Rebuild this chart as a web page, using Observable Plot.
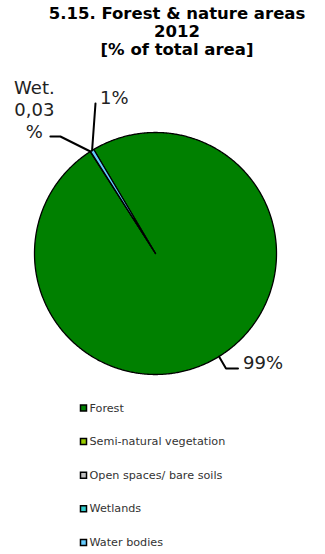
<!DOCTYPE html>
<html>
<head>
<meta charset="utf-8">
<script src="https://cdn.jsdelivr.net/npm/d3@7"></script>
<script src="https://cdn.jsdelivr.net/npm/@observablehq/plot@0.6"></script>
<style>
  html, body { margin: 0; padding: 0; background: #fff; }
  #wrap { width: 325px; height: 554px; position: relative; overflow: hidden; }
  #title { box-sizing: border-box; width: 325px; height: 60px; padding: 5px 0 0 29px;
           font: bold 16.5px "DejaVu Sans", sans-serif; line-height: 18px; text-align: center; color: #000; }
  #chart svg { display: block; }
</style>
</head>
<body>
<div id="wrap">
  <div id="title">5.15. Forest &amp; nature areas<br>2012<br>[% of total area]</div>
  <div id="chart"></div>
</div>
<script>
// ---- data ----
const categories = ["Forest", "Semi-natural vegetation", "Open spaces/ bare soils", "Wetlands", "Water bodies"];
const shares = [99.47, 0, 0, 0.03, 0.5];
const colors = ["#008000", "#99cc00", "#c0c0c0", "#33cccc", "#66ccff"];
const pieLabels = ["99%", "", "", "Wet.\n0,03\n%", "1%"];

// ---- layout ----
const W = 325, H = 494, top0 = 60;
const cx = 155, cy = 253, R = 121;
const startDeg = 329.3;
// leader layout per slice: [elbow dx, elbow dy, end dx] relative to arc point; label anchor
const leaderLayout = {
  0: {elbow: [7, 12], endDx: 12, text: [24, 13], anchor: "start"},
  3: {elbow: [-30, -15], endDx: -10, text: [-56, -14], anchor: "middle"},
  4: {elbow: [3.4, -47], endDx: 0, text: [8, -46], anchor: "start"}
};

const arcs = d3.pie().sort(null).value(d => d)
  .startAngle(startDeg * Math.PI / 180)
  .endAngle(startDeg * Math.PI / 180 + 2 * Math.PI)(shares);

const pt = (a, r) => ({x: cx + r * Math.sin(a), y: cy - r * Math.cos(a)});

const marks = [];
arcs.forEach((a, i) => {
  if (a.value <= 0) return;
  const n = Math.max(2, Math.ceil((a.endAngle - a.startAngle) / (Math.PI / 360)));
  const poly = [{x: cx, y: cy}];
  for (let k = 0; k <= n; k++) poly.push(pt(a.startAngle + (a.endAngle - a.startAngle) * k / n, R));
  poly.push({x: cx, y: cy});
  marks.push(Plot.line(poly, {x: "x", y: "y", fill: colors[i], stroke: "#000", strokeWidth: 1.3, strokeLinejoin: "round"}));
});

// leaders and labels
arcs.forEach((a, i) => {
  const L = leaderLayout[i];
  if (!L || !pieLabels[i]) return;
  const mid = (a.startAngle + a.endAngle) / 2;
  const p0 = pt(mid, R);
  const p1 = {x: p0.x + L.elbow[0], y: p0.y + L.elbow[1]};
  const p2 = {x: p1.x + L.endDx, y: p1.y};
  marks.push(Plot.line([p0, p1, p2], {x: "x", y: "y", stroke: "#000", strokeWidth: 2}));
  marks.push(Plot.text([pieLabels[i]], {
    x: p0.x + L.text[0], y: p0.y + L.text[1], text: d => d,
    textAnchor: L.anchor, lineAnchor: "bottom", lineHeight: 1.22,
    fontSize: 18, fill: "#222", fontFamily: "DejaVu Sans"
  }));
});

// legend
const legend = categories.map((c, i) => ({c, color: colors[i], y: 407.5 + i * 33.6}));
marks.push(Plot.dot(legend, {x: 83, y: "y", symbol: "square", r: 3.4, fill: "color", stroke: "#000", strokeWidth: 1.5}));
marks.push(Plot.text(legend, {x: 89, y: "y", text: "c", textAnchor: "start", fontSize: 11.2, fill: "#333", fontFamily: "DejaVu Sans"}));

const chart = Plot.plot({
  width: W, height: H, margin: 0,
  x: {domain: [0, W], range: [0, W], axis: null},
  y: {domain: [top0, top0 + H], range: [0, H], axis: null},
  color: {type: "identity"},
  style: {fontFamily: "DejaVu Sans", background: "#fff"},
  marks
});
document.getElementById("chart").appendChild(chart);
</script>
</body>
</html>
